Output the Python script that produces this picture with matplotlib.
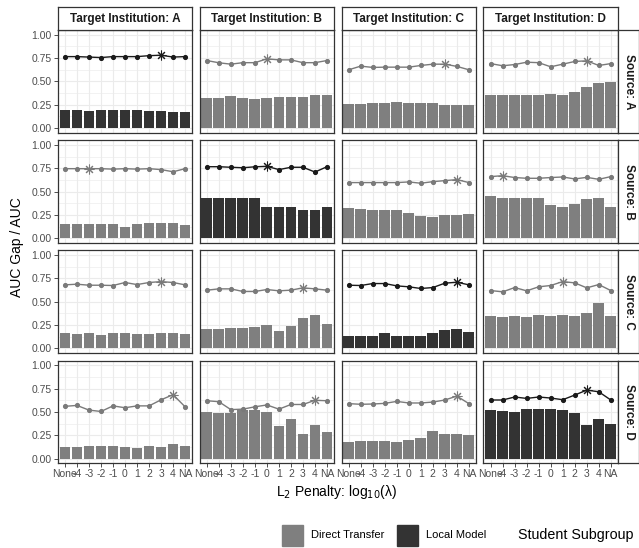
import numpy as np
import matplotlib
matplotlib.use("Agg")
from matplotlib import pyplot as plt
from matplotlib.patches import Rectangle

plt.rcParams['font.family'] = ['Liberation Sans', 'DejaVu Sans']

penalties = ['None', '-4', '-3', '-2', '-1', '0', '1', '2', '3', '4', 'NA']
sources = ['A', 'B', 'C', 'D']
targets = ['A', 'B', 'C', 'D']

# AUC gap (bars), one list per source -> target
gap_A_A = [0.195, 0.195, 0.185, 0.195, 0.195, 0.195, 0.195, 0.185, 0.185, 0.175, 0.175]
gap_A_B = [0.32, 0.32, 0.345, 0.32, 0.31, 0.32, 0.335, 0.335, 0.335, 0.355, 0.355]
gap_A_C = [0.255, 0.255, 0.27, 0.27, 0.28, 0.27, 0.27, 0.27, 0.25, 0.25, 0.25]
gap_A_D = [0.355, 0.355, 0.355, 0.355, 0.355, 0.365, 0.355, 0.387, 0.44, 0.482, 0.496]
gap_B_A = [0.15, 0.15, 0.15, 0.15, 0.15, 0.125, 0.15, 0.16, 0.16, 0.16, 0.14]
gap_B_B = [0.435, 0.435, 0.435, 0.435, 0.435, 0.33, 0.33, 0.33, 0.30, 0.30, 0.33]
gap_B_C = [0.32, 0.31, 0.305, 0.305, 0.305, 0.265, 0.235, 0.225, 0.245, 0.245, 0.255]
gap_B_D = [0.447, 0.426, 0.426, 0.426, 0.426, 0.351, 0.33, 0.362, 0.415, 0.436, 0.33]
gap_C_A = [0.165, 0.155, 0.165, 0.145, 0.165, 0.165, 0.155, 0.155, 0.165, 0.165, 0.155]
gap_C_B = [0.209, 0.209, 0.22, 0.22, 0.23, 0.252, 0.191, 0.245, 0.326, 0.358, 0.262]
gap_C_C = [0.128, 0.138, 0.138, 0.167, 0.138, 0.128, 0.138, 0.167, 0.202, 0.213, 0.181]
gap_C_D = [0.351, 0.34, 0.351, 0.34, 0.362, 0.351, 0.362, 0.351, 0.376, 0.482, 0.351]
gap_D_A = [0.125, 0.125, 0.135, 0.135, 0.135, 0.125, 0.115, 0.135, 0.125, 0.16, 0.135]
gap_D_B = [0.50, 0.49, 0.49, 0.52, 0.52, 0.50, 0.35, 0.425, 0.265, 0.36, 0.285]
gap_D_C = [0.177, 0.188, 0.188, 0.188, 0.177, 0.199, 0.22, 0.291, 0.259, 0.259, 0.248]
gap_D_D = [0.525, 0.514, 0.504, 0.535, 0.535, 0.535, 0.525, 0.493, 0.358, 0.429, 0.369]

# AUC (lines)
auc_A_A = [0.765, 0.765, 0.76, 0.755, 0.765, 0.765, 0.765, 0.775, 0.78, 0.76, 0.765]
auc_A_B = [0.723, 0.699, 0.684, 0.70, 0.70, 0.741, 0.73, 0.73, 0.70, 0.70, 0.723]
auc_A_C = [0.624, 0.663, 0.649, 0.652, 0.652, 0.652, 0.67, 0.684, 0.684, 0.66, 0.624]
auc_A_D = [0.69, 0.667, 0.68, 0.705, 0.70, 0.656, 0.684, 0.713, 0.72, 0.67, 0.69]
auc_B_A = [0.745, 0.745, 0.745, 0.745, 0.74, 0.745, 0.74, 0.745, 0.735, 0.712, 0.745]
auc_B_B = [0.766, 0.766, 0.76, 0.755, 0.765, 0.77, 0.735, 0.76, 0.76, 0.709, 0.766]
auc_B_C = [0.596, 0.596, 0.596, 0.596, 0.596, 0.603, 0.589, 0.606, 0.617, 0.628, 0.596]
auc_B_D = [0.66, 0.67, 0.65, 0.642, 0.642, 0.65, 0.656, 0.635, 0.652, 0.631, 0.66]
auc_C_A = [0.681, 0.688, 0.677, 0.677, 0.674, 0.706, 0.684, 0.706, 0.716, 0.706, 0.681]
auc_C_B = [0.624, 0.638, 0.638, 0.61, 0.61, 0.631, 0.617, 0.624, 0.649, 0.638, 0.624]
auc_C_C = [0.677, 0.674, 0.695, 0.695, 0.67, 0.66, 0.642, 0.652, 0.699, 0.709, 0.681]
auc_C_D = [0.62, 0.606, 0.652, 0.617, 0.66, 0.674, 0.716, 0.702, 0.649, 0.684, 0.62]
auc_D_A = [0.56, 0.57, 0.52, 0.505, 0.565, 0.545, 0.565, 0.565, 0.63, 0.685, 0.555]
auc_D_B = [0.62, 0.61, 0.525, 0.53, 0.555, 0.575, 0.53, 0.58, 0.58, 0.625, 0.62]
auc_D_C = [0.589, 0.582, 0.585, 0.592, 0.613, 0.596, 0.596, 0.606, 0.628, 0.67, 0.589]
auc_D_D = [0.628, 0.628, 0.66, 0.645, 0.66, 0.649, 0.631, 0.681, 0.734, 0.716, 0.628]

# index of the selected penalty (asterisk), per source row
best_A = [8, 5, 8, 8]
best_B = [2, 5, 9, 1]
best_C = [8, 8, 9, 6]
best_D = [9, 9, 9, 8]

gaps = {
    'A': [gap_A_A, gap_A_B, gap_A_C, gap_A_D],
    'B': [gap_B_A, gap_B_B, gap_B_C, gap_B_D],
    'C': [gap_C_A, gap_C_B, gap_C_C, gap_C_D],
    'D': [gap_D_A, gap_D_B, gap_D_C, gap_D_D],
}
aucs = {
    'A': [auc_A_A, auc_A_B, auc_A_C, auc_A_D],
    'B': [auc_B_A, auc_B_B, auc_B_C, auc_B_D],
    'C': [auc_C_A, auc_C_B, auc_C_C, auc_C_D],
    'D': [auc_D_A, auc_D_B, auc_D_C, auc_D_D],
}
bests = {'A': best_A, 'B': best_B, 'C': best_C, 'D': best_D}

W, H = 639, 548
fig = plt.figure(figsize=(W / 100, H / 100), dpi=100)

COL_DT = '#7f7f7f'
COL_LM = '#333333'
LINE_DT = '#7a7a7a'
LINE_LM = '#1a1a1a'
GRID = '#ebebeb'
BORDER = '#333333'

left0, pw, pitch_x = 57.7, 134.6, 141.9
top0, ph, pitch_y = 30.0, 102.7, 110.2
strip_h = 22.7
strip_w = 21.5


def fig_rect(x, y, w, h):
    return [x / W, 1 - (y + h) / H, w / W, h / H]


x = np.arange(len(penalties))
for i, src in enumerate(sources):
    for j, tgt in enumerate(targets):
        px = left0 + j * pitch_x
        py = top0 + i * pitch_y
        ax = fig.add_axes(fig_rect(px, py, pw, ph))
        local = (src == tgt)
        bar_c = COL_LM if local else COL_DT
        line_c = LINE_LM if local else LINE_DT
        ax.bar(x, gaps[src][j], width=0.9, color=bar_c, zorder=2)
        y = np.array(aucs[src][j])
        b = bests[src][j]
        ax.plot(x, y, color=line_c, lw=1.0, zorder=3)
        mask = np.arange(len(x)) != b
        ax.plot(x[mask], y[mask], 'o', color=line_c, ms=2.7, zorder=4)
        ax.plot(x[b], y[b], marker=(8, 2, 0), color=line_c, ms=7, mew=0.75, zorder=4)

        ax.set_xlim(-0.6, 10.6)
        ax.set_ylim(-0.05, 1.05)
        ax.set_yticks([0, 0.25, 0.5, 0.75, 1.0])
        ax.set_yticks([0.125, 0.375, 0.625, 0.875], minor=True)
        ax.set_xticks(x)
        ax.grid(True, which='major', color=GRID, lw=0.8, zorder=0)
        ax.grid(True, which='minor', axis='y', color=GRID, lw=0.45, zorder=0)
        ax.set_axisbelow(True)
        for s in ax.spines.values():
            s.set_color(BORDER)
            s.set_linewidth(0.9)
        ax.tick_params(which='minor', length=0)
        ax.tick_params(which='major', length=2.8, width=0.6, color=BORDER,
                       labelsize=7.5, labelcolor='#4d4d4d', pad=1.5)
        if j == 0:
            ax.set_yticklabels(['0.00', '0.25', '0.50', '0.75', '1.00'])
        else:
            ax.tick_params(axis='y', length=0, labelleft=False)
        if i == len(sources) - 1:
            ax.set_xticklabels(penalties)
        else:
            ax.tick_params(axis='x', length=0, labelbottom=False)

        if i == 0:
            sax = fig.add_axes(fig_rect(px, py - strip_h, pw, strip_h))
            sax.set_xticks([])
            sax.set_yticks([])
            for s in sax.spines.values():
                s.set_color(BORDER)
                s.set_linewidth(0.9)
            sax.text(0.5, 0.5, f'Target Institution: {tgt}', ha='center', va='center',
                     fontsize=8.5, fontweight='bold', color='#1a1a1a',
                     transform=sax.transAxes)
        if j == len(targets) - 1:
            sax = fig.add_axes(fig_rect(px + pw, py, strip_w, ph))
            sax.set_xticks([])
            sax.set_yticks([])
            for s in sax.spines.values():
                s.set_color(BORDER)
                s.set_linewidth(0.9)
            sax.text(0.5, 0.5, f'Source: {src}', ha='center', va='center',
                     rotation=-90, fontsize=8.5, fontweight='bold', color='#1a1a1a',
                     transform=sax.transAxes)

fig.text(17 / W, 1 - 247 / H, 'AUC Gap / AUC', rotation=90, ha='center', va='center',
         fontsize=10)
fig.text(337 / W, 1 - 492 / H, 'L$_2$ Penalty: log$_{10}$(λ)', ha='center', va='center',
         fontsize=10, math_fontfamily='dejavusans')

# legend
leg_y = 535.5
sw = 21
fig.patches.append(Rectangle((282 / W, 1 - (leg_y + sw / 2) / H), sw / W, sw / H,
                             transform=fig.transFigure, color=COL_DT))
fig.text(311 / W, 1 - leg_y / H, 'Direct Transfer', ha='left', va='center', fontsize=8)
fig.patches.append(Rectangle((397 / W, 1 - (leg_y + sw / 2) / H), sw / W, sw / H,
                             transform=fig.transFigure, color=COL_LM))
fig.text(426 / W, 1 - leg_y / H, 'Local Model', ha='left', va='center', fontsize=8)
fig.text(518 / W, 1 - leg_y / H, 'Student Subgroup', ha='left', va='center', fontsize=10.3)

fig.savefig('out.png', dpi=100)
